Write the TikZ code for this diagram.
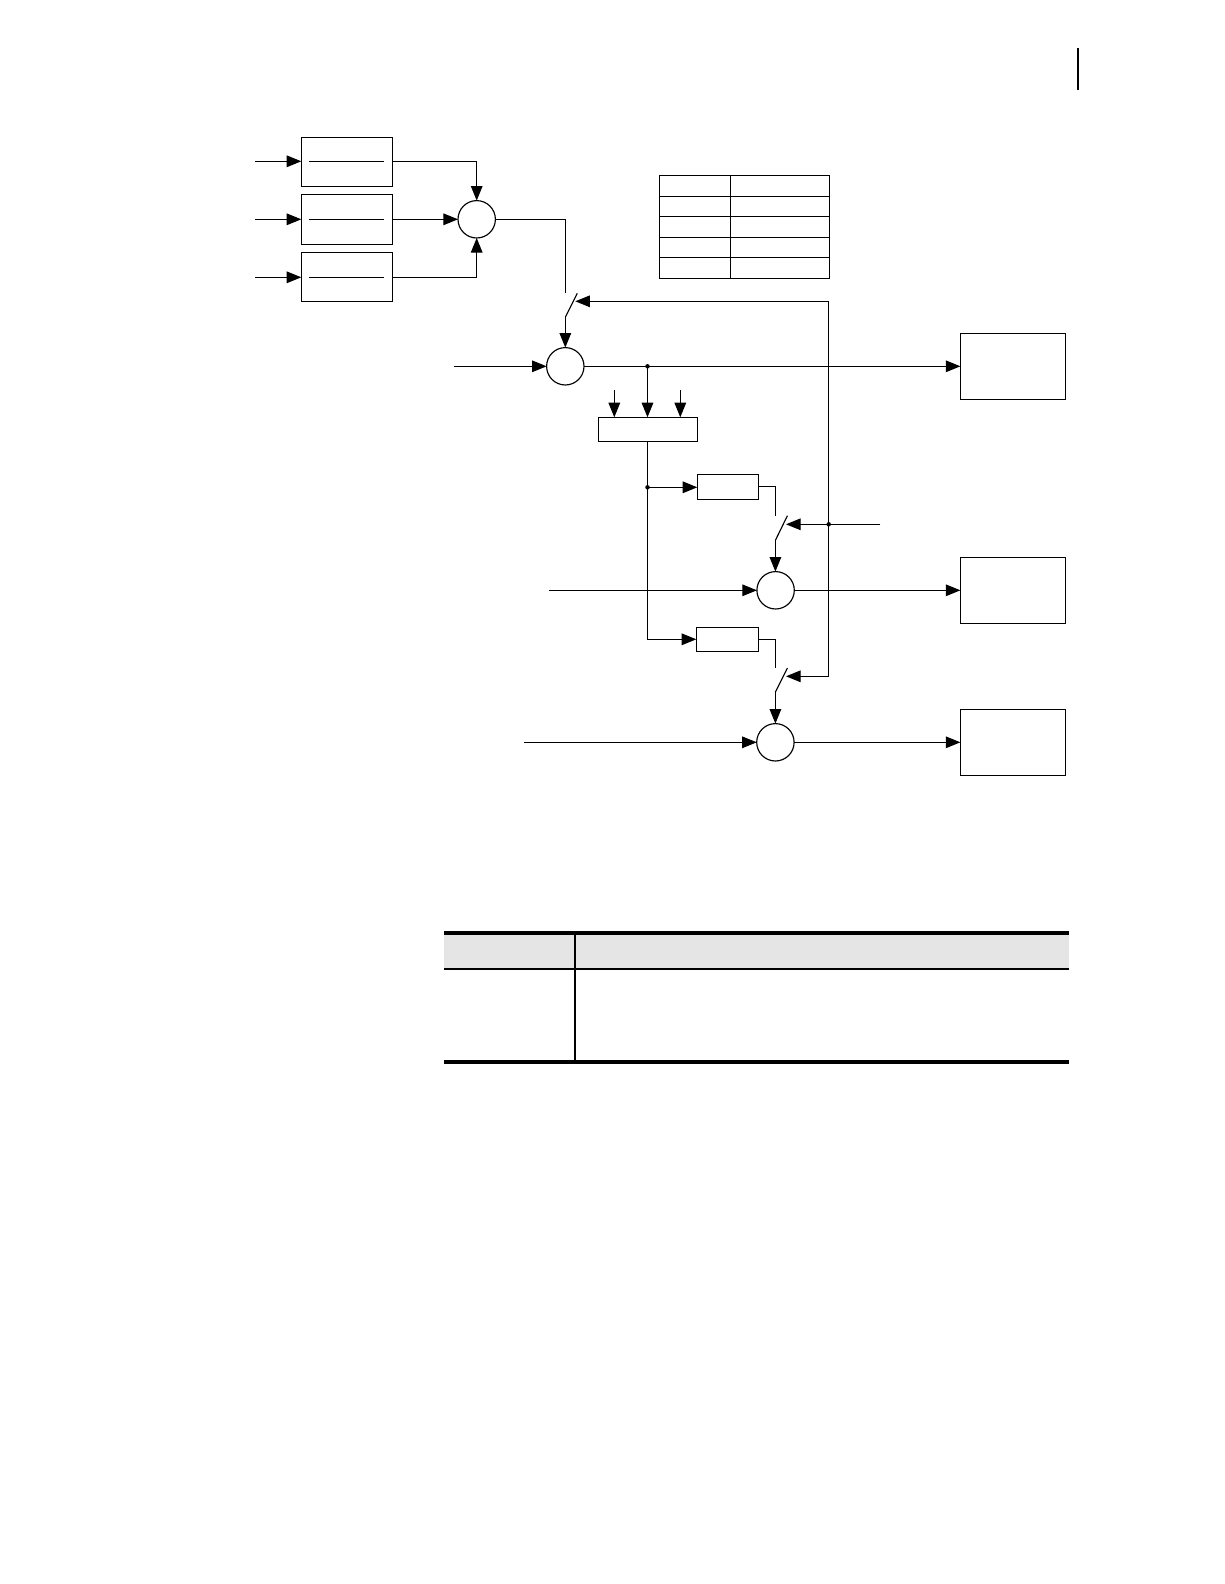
\documentclass[tikz,border=0pt]{standalone}
\usetikzlibrary{arrows.meta,calc}
\begin{document}
\begin{tikzpicture}[x=1pt,y=-1pt,
  wire/.style={line width=1.15pt,black},
  flow/.style={wire,-{Triangle[length=14.6pt,width=11.6pt]}},
  blockbox/.style={draw,line width=1.15pt,rectangle,inner sep=0pt,outer sep=0pt},
  sumcirc/.style={draw,line width=1.15pt,circle,minimum size=37.4pt,inner sep=0pt,outer sep=0pt},
  junction/.style={circle,fill=black,minimum size=4.5pt,inner sep=0pt,outer sep=0pt},
  heavy/.style={fill=black,draw=none}]
\useasboundingbox (0,0) rectangle (1224,1584);

% page marker
\fill[black] (1076.9,48) rectangle (1078.6,90);

% input blocks
\node[blockbox,minimum width=91.4pt,minimum height=49pt] (b1) at (347,161.8) {};
\node[blockbox,minimum width=91.4pt,minimum height=50pt] (b2) at (347,219.3) {};
\node[blockbox,minimum width=91.4pt,minimum height=49pt] (b3) at (347,276.8) {};
\coordinate (b1l) at (309.3,161.3); \coordinate (b1r) at (384,161.3);
\coordinate (b2l) at (309.3,219.3); \coordinate (b2r) at (384,219.3);
\coordinate (b3l) at (309.3,277.3); \coordinate (b3r) at (384,277.3);
\draw[wire] (b1l) -- (b1r);
\draw[wire] (b2l) -- (b2r);
\draw[wire] (b3l) -- (b3r);
\coordinate (i1) at (255,161.3);
\coordinate (i2) at (255,219.3);
\coordinate (i3) at (255,277.3);
\draw[flow] (i1) -- (i1 -| b1.west);
\draw[flow] (i2) -- (i2 -| b2.west);
\draw[flow] (i3) -- (i3 -| b3.west);

% first sum
\node[sumcirc] (s1) at (476.7,219.3) {};
\draw[flow] (b1.east |- i1) -| (s1.north);
\draw[flow] (b2.east |- i2) -- (s1.west);
\draw[flow] (b3.east |- i3) -| (s1.south);

% table
\draw[wire] (659.3,175.3) rectangle (829.3,278.3);
\draw[wire] (730.3,175.3) -- (730.3,278.3);
\draw[wire] (659.3,196.3) -- (829.3,196.3);
\draw[wire] (659.3,216.3) -- (829.3,216.3);
\draw[wire] (659.3,237.3) -- (829.3,237.3);
\draw[wire] (659.3,257.3) -- (829.3,257.3);

% second sum and switch
\node[sumcirc] (s2) at (565.3,366.3) {};
\coordinate (sw1t) at (565.3,293.3);
\coordinate (sw1u) at (577.3,293.3);
\coordinate (sw1b) at (565.3,317.3);
\coordinate (sw1c) at (575.3,301.3);
\draw[wire] (s1.east) -| (sw1t);
\draw[wire] (sw1u) -- (sw1b);
\draw[flow] (sw1b) -- (s2.north);
\coordinate (i4) at (453.7,366.3);
\draw[flow] (i4) -- (s2.west);

% output blocks
\node[blockbox,minimum width=105pt,minimum height=66pt] (o1) at (1012.9,366.3) {};
\node[blockbox,minimum width=105pt,minimum height=66pt] (o2) at (1012.9,590.3) {};
\node[blockbox,minimum width=105pt,minimum height=66pt] (o3) at (1012.9,742.3) {};
\draw[flow] (s2.east) -- (o1.west);

% middle block
\node[junction] (j1) at (647.5,366.3) {};
\node[blockbox,minimum width=99pt,minimum height=24pt] (m) at (647.8,429.3) {};
\coordinate (m1) at (614.3,390);
\coordinate (m3) at (680.3,390);
\draw[flow] (m1) -- (m1 |- m.north);
\draw[flow] (m3) -- (m3 |- m.north);
\draw[flow] (j1.center) -- (j1.center |- m.north);

% delay blocks
\node[blockbox,minimum width=61pt,minimum height=25pt] (d1) at (727.8,486.8) {};
\node[blockbox,minimum width=62pt,minimum height=24pt] (d2) at (727.3,639.3) {};
\node[junction] (j2) at (647.5,487.3) {};
\draw[wire] (j1.center |- m.south) -- (j2.center);
\draw[flow] (j2.center) -- (j2.center -| d1.west);
\draw[flow] (j2.center) |- (d2.west);

% second switch and sum
\node[sumcirc] (s3) at (775.6,590.3) {};
\coordinate (sw2t) at (775.4,515.7);
\coordinate (sw2u) at (787.4,515.7);
\coordinate (sw2b) at (775.4,540.3);
\coordinate (sw2c) at (786,524.3);
\draw[wire] (d1.east) -| (sw2t);
\draw[wire] (sw2u) -- (sw2b);
\draw[flow] (sw2b) -- (sw2b |- s3.north);
\coordinate (i5) at (549,590.3);
\draw[flow] (i5) -- (s3.west);
\draw[flow] (s3.east) -- (o2.west);

% third switch and sum
\node[sumcirc] (s4) at (775.4,742.3) {};
\coordinate (sw3t) at (775.4,668);
\coordinate (sw3u) at (787.4,668);
\coordinate (sw3b) at (775.4,692);
\coordinate (sw3c) at (786,676.3);
\draw[wire] (d2.east) -| (sw3t);
\draw[wire] (sw3u) -- (sw3b);
\draw[flow] (sw3b) -- (s4.north);
\coordinate (i6) at (523.5,742.3);
\draw[flow] (i6) -- (s4.west);
\draw[flow] (s4.east) -- (o3.west);

% control bus
\coordinate (cin) at (880.3,524.3);
\node[junction] (j3) at (828.7,524.3) {};
\coordinate (ctop) at (828.7,301.3);
\coordinate (cbot) at (828.7,676.3);
\draw[flow] (cin) -- (sw2c);
\draw[flow] (cbot) -- (sw3c);
\draw[flow] (ctop) -- (sw1c);
\draw[wire,line cap=rect] (ctop) -- (cbot);

% lower table
\fill[black!10] (444.3,935) rectangle (1069,967.7);
\fill[heavy] (444.3,931) rectangle (1069,935);
\fill[heavy] (444.3,967.7) rectangle (1069,970);
\fill[heavy] (444.3,1060) rectangle (1069,1064);
\fill[heavy] (573.9,935) rectangle (575.9,1060);
\end{tikzpicture}
\end{document}
